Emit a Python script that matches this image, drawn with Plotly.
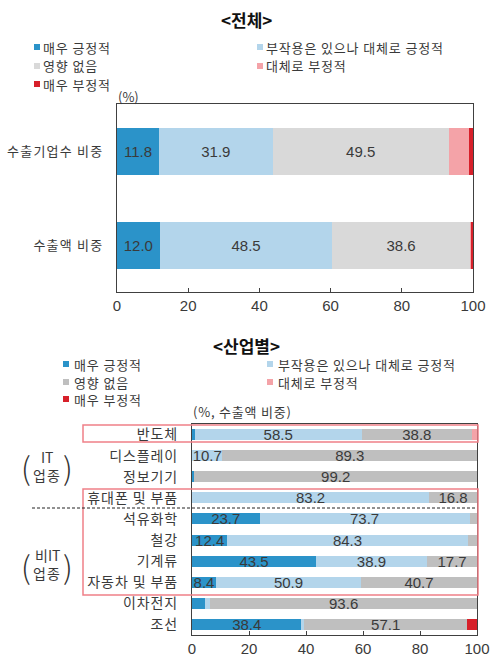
import plotly.graph_objects as go

# ---------------- data ----------------
series_names = ["매우 긍정적", "부작용은 있으나 대체로 긍정적", "영향 없음", "대체로 부정적", "매우 부정적"]

top_categories = ["수출기업수 비중", "수출액 비중"]
top_very_pos = [11.8, 12.0]
top_pos = [31.9, 48.5]
top_none = [49.5, 38.6]
top_neg = [5.7, 0.6]
top_very_neg = [1.1, 0.3]

ind_categories = ["반도체", "디스플레이", "정보기기", "휴대폰 및 부품", "석유화학",
                  "철강", "기계류", "자동차 및 부품", "이차전지", "조선"]
ind_very_pos = [1.0, 0.0, 0.8, 0.0, 23.7, 12.4, 43.5, 8.4, 4.4, 38.4]
ind_pos = [58.5, 10.7, 0.0, 83.2, 73.7, 84.3, 38.9, 50.9, 2.0, 1.0]
ind_none = [38.8, 89.3, 99.2, 16.8, 2.6, 3.3, 17.7, 40.7, 93.6, 57.1]
ind_neg = [1.7, 0.0, 0.0, 0.0, 0.0, 0.0, 0.0, 0.0, 0.0, 0.0]
ind_very_neg = [0.0, 0.0, 0.0, 0.0, 0.0, 0.0, 0.0, 0.0, 0.0, 3.5]

x_ticks = [0, 20, 40, 60, 80, 100]

# ---------------- style ----------------
W, H = 492, 662
C_DB = "#2b93c9"
C_LB = "#b3d5eb"
C_GR_TOP = "#d9d9d9"
C_GR_BOT = "#bfbfbf"
C_PK = "#f4a3a8"
C_RD = "#d7202a"
TXT = "#3a3a3a"
KFONT = "Noto Sans CJK KR"
NFONT = "Liberation Sans"

top_colors = [C_DB, C_LB, C_GR_TOP, C_PK, C_RD]
bot_colors = [C_DB, C_LB, C_GR_BOT, C_PK, C_RD]


def px_x(x):
    return x / W


def px_y(y):
    return 1 - y / H


def ks(s, ls=1.0):
    return f'<span style="letter-spacing:{ls}px">{s}</span>'


def labels(vals):
    return [f"{v:.1f}" if v >= 8 else "" for v in vals]


fig = go.Figure()

top_series = [top_very_pos, top_pos, top_none, top_neg, top_very_neg]
for name, vals, col in zip(series_names, top_series, top_colors):
    fig.add_trace(go.Bar(
        x=vals, y=top_categories, orientation="h", name=name,
        marker=dict(color=col, line=dict(width=0)),
        text=labels(vals), textposition="inside", insidetextanchor="middle",
        constraintext="none", textangle=0,
        textfont=dict(family=NFONT, size=15, color=TXT),
        width=0.5, xaxis="x", yaxis="y", showlegend=False, hoverinfo="skip",
    ))

bot_series = [ind_very_pos, ind_pos, ind_none, ind_neg, ind_very_neg]
for name, vals, col in zip(series_names, bot_series, bot_colors):
    fig.add_trace(go.Bar(
        x=vals, y=ind_categories, orientation="h", name=name,
        marker=dict(color=col, line=dict(width=0)),
        text=labels(vals), textposition="inside", insidetextanchor="middle",
        constraintext="none", textangle=0,
        textfont=dict(family=NFONT, size=15, color=TXT),
        width=0.52, xaxis="x2", yaxis="y2", showlegend=False, hoverinfo="skip",
    ))

axis_common = dict(showline=True, linecolor="#404040", linewidth=1.2, mirror=True,
                   showgrid=False, zeroline=False, automargin=False)

fig.update_layout(
    width=W, height=H, margin=dict(l=0, r=0, t=0, b=0),
    paper_bgcolor="white", plot_bgcolor="white",
    barmode="stack", showlegend=False,
    font=dict(family=KFONT, color=TXT),
    xaxis=dict(domain=[px_x(117), px_x(473)], anchor="y", range=[0, 100],
               tickvals=x_ticks, ticks="inside", ticklen=4, tickcolor="#404040",
               tickfont=dict(family=NFONT, size=15, color=TXT), **axis_common),
    yaxis=dict(domain=[px_y(292), px_y(104)], anchor="x", autorange="reversed",
               ticks="", ticklabelstandoff=10,
               tickvals=top_categories, ticktext=[ks(c, 1.2) for c in top_categories],
               tickfont=dict(family=KFONT, size=13, color=TXT), **axis_common),
    xaxis2=dict(domain=[px_x(192), px_x(477)], anchor="y2", range=[0, 100],
                tickvals=x_ticks, ticks="inside", ticklen=4, tickcolor="#404040",
                tickfont=dict(family=NFONT, size=15, color=TXT), **axis_common),
    yaxis2=dict(domain=[px_y(635), px_y(424)], anchor="x2", autorange="reversed",
                ticks="", ticklabelstandoff=10,
                tickvals=ind_categories, ticktext=[ks(c, 0.9) for c in ind_categories],
                tickfont=dict(family=KFONT, size=14, color=TXT), **axis_common),
)

ann = []
shapes = []


def text(x, y, s, size=13, anchor="left", bold=False, family=KFONT, color=TXT, weight=None):
    f = dict(family=family, size=size, color=color)
    if weight is not None:
        f["weight"] = weight
    ann.append(dict(x=px_x(x), y=px_y(y), xref="paper", yref="paper",
                    text=f"<b>{s}</b>" if bold else s,
                    showarrow=False, xanchor=anchor, yanchor="middle", font=f))


# titles
text(246, 19, "&lt;전체&gt;", size=17, anchor="center", bold=True, color="#111")
text(246, 345, "&lt;산업별&gt;", size=17, anchor="center", bold=True, color="#111")


def legend(x1, x2, rows, colors, gap=7, size=6):
    positions = [(x1, rows[0]), (x2, rows[0]), (x1, rows[1]), (x2, rows[1]), (x1, rows[2])]
    for (x, y), name, col in zip(positions, series_names, colors):
        shapes.append(dict(type="rect", xref="paper", yref="paper",
                           x0=px_x(x), x1=px_x(x + size), y0=px_y(y + size / 2), y1=px_y(y - size / 2),
                           fillcolor=col, line=dict(width=0)))
        text(x + gap, y, ks(name, 0.85), size=13)


legend(34, 257, [47, 66, 84], top_colors)
legend(63, 267, [364, 382, 399], bot_colors, gap=9)

text(116, 97, "(%)", size=13)
text(191, 411, ks("(%, 수출액 비중)", 0.8), size=13)

# group annotations
for yc, lab in [(467, "IT"), (565, "비IT")]:
    text(26, yc, "(", size=31, anchor="center", color="#333", weight=200)
    text(68, yc, ")", size=31, anchor="center", color="#333", weight=200)
    text(47, yc - 10, lab, size=14, anchor="center")
    text(47, yc + 8, ks("업종", 1.0), size=14, anchor="center")

# red boxes and dashed separator
for y0, y1 in [(425, 442), (489, 595)]:
    shapes.append(dict(type="rect", xref="paper", yref="paper",
                       x0=px_x(83), x1=px_x(478), y0=px_y(y1), y1=px_y(y0),
                       line=dict(color="#ef8088", width=1.5), fillcolor="rgba(0,0,0,0)"))
shapes.append(dict(type="line", xref="paper", yref="paper",
                   x0=px_x(32), x1=px_x(477), y0=px_y(508), y1=px_y(508),
                   line=dict(color="#222", width=1, dash="3px,2px")))

fig.update_layout(annotations=ann, shapes=shapes)
fig.write_html(
    "out.html",
    config={"displayModeBar": False},
    post_script="document.body.style.margin='0px';document.body.style.overflow='hidden';",
)
